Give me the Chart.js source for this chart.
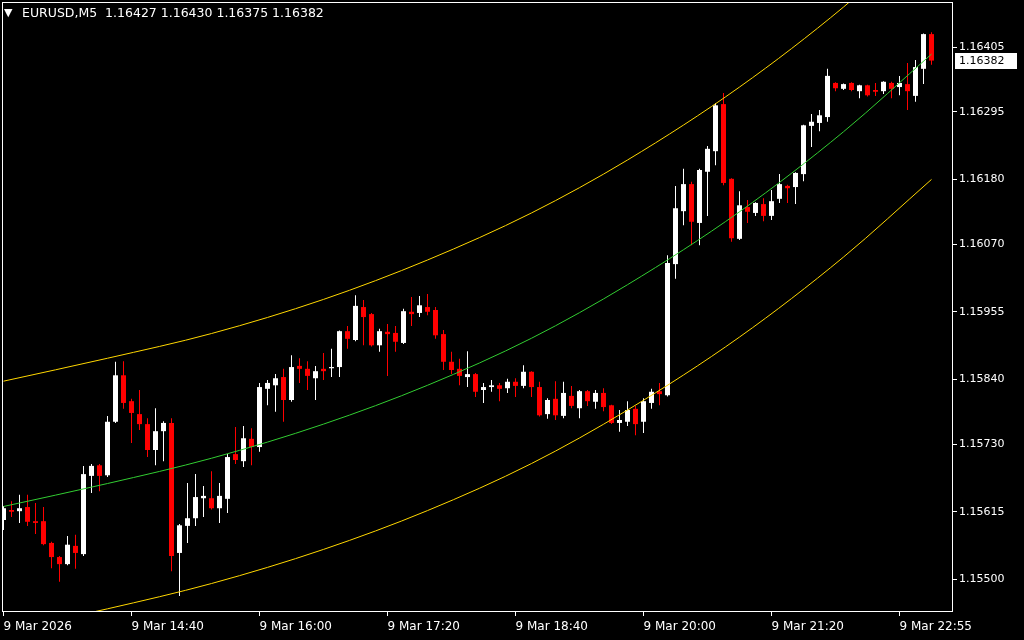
<!DOCTYPE html>
<html>
<head>
<meta charset="utf-8">
<script src="https://cdn.jsdelivr.net/npm/chart.js@4.4.1/dist/chart.umd.min.js"></script>
<style>
html, body { margin: 0; padding: 0; background: #000; }
canvas { display: block; }
</style>
</head>
<body>
<canvas id="chart" width="1024" height="640"></canvas>
<script>
// EURUSD M5 candles, 9 Mar 2026
const symbol = 'EURUSD,M5';

const opens = [
  1.15601, 1.15618, 1.15616, 1.15623, 1.15599, 1.15599, 1.15562, 1.15538, 1.15526, 1.15557,
  1.15543, 1.15676, 1.15694, 1.15677, 1.15768, 1.15847, 1.15803, 1.15781, 1.15764, 1.15720,
  1.15752, 1.15766, 1.15545, 1.15591, 1.15604, 1.15638, 1.15638, 1.15621, 1.15637, 1.15713,
  1.15701, 1.15739, 1.15725, 1.15824, 1.15830, 1.15844, 1.15805, 1.15863, 1.15858, 1.15842,
  1.15858, 1.15859, 1.15861, 1.15922, 1.15907, 1.15963, 1.15951, 1.15898, 1.15921, 1.15919,
  1.15902, 1.15955, 1.15953, 1.15963, 1.15958, 1.15917, 1.15870, 1.15858, 1.15844, 1.15849,
  1.15822, 1.15827, 1.15830, 1.15825, 1.15836, 1.15829, 1.15853, 1.15827, 1.15781, 1.15807,
  1.15778, 1.15812, 1.15791, 1.15820, 1.15802, 1.15817, 1.15796, 1.15766, 1.15768, 1.15790,
  1.15768, 1.15800, 1.15820, 1.15813, 1.16036, 1.16126, 1.16172, 1.16106, 1.16193, 1.16228,
  1.16308, 1.16181, 1.16079, 1.16133, 1.16123, 1.16138, 1.16118, 1.16147, 1.16169, 1.16167,
  1.16189, 1.16271, 1.16276, 1.16286, 1.16344, 1.16334, 1.16344, 1.16330, 1.16340, 1.16332,
  1.16330, 1.16344, 1.16337, 1.16342, 1.16322, 1.16368, 1.16427
];
const highs = [
  1.15625, 1.15633, 1.15644, 1.15644, 1.15630, 1.15623, 1.15564, 1.15540, 1.15574, 1.15576,
  1.15693, 1.15696, 1.15696, 1.15778, 1.15870, 1.15871, 1.15807, 1.15822, 1.15774, 1.15791,
  1.15769, 1.15774, 1.15594, 1.15664, 1.15679, 1.15659, 1.15684, 1.15664, 1.15713, 1.15759,
  1.15761, 1.15757, 1.15834, 1.15839, 1.15849, 1.15858, 1.15881, 1.15876, 1.15871, 1.15863,
  1.15885, 1.15892, 1.15923, 1.15931, 1.15983, 1.15975, 1.15953, 1.15926, 1.15934, 1.15931,
  1.15960, 1.15980, 1.15982, 1.15985, 1.15963, 1.15924, 1.15887, 1.15875, 1.15888, 1.15851,
  1.15834, 1.15839, 1.15834, 1.15841, 1.15842, 1.15864, 1.15854, 1.15836, 1.15808, 1.15837,
  1.15836, 1.15829, 1.15822, 1.15822, 1.15822, 1.15825, 1.15797, 1.15788, 1.15803, 1.15795,
  1.15808, 1.15824, 1.15834, 1.16051, 1.16169, 1.16198, 1.16176, 1.16198, 1.16237, 1.16310,
  1.16327, 1.16182, 1.16160, 1.16145, 1.16141, 1.16148, 1.16162, 1.16189, 1.16171, 1.16192,
  1.16273, 1.16291, 1.16298, 1.16368, 1.16345, 1.16343, 1.16345, 1.16341, 1.16341, 1.16344,
  1.16347, 1.16346, 1.16356, 1.16378, 1.16383, 1.16428, 1.16430
];
const lows = [
  1.15584, 1.15606, 1.15596, 1.15591, 1.15577, 1.15558, 1.15519, 1.15496, 1.15524, 1.15518,
  1.15540, 1.15647, 1.15650, 1.15674, 1.15766, 1.15790, 1.15732, 1.15754, 1.15708, 1.15694,
  1.15701, 1.15514, 1.15472, 1.15562, 1.15591, 1.15606, 1.15619, 1.15596, 1.15613, 1.15696,
  1.15691, 1.15694, 1.15717, 1.15796, 1.15785, 1.15768, 1.15802, 1.15834, 1.15822, 1.15805,
  1.15839, 1.15844, 1.15844, 1.15892, 1.15905, 1.15898, 1.15896, 1.15887, 1.15846, 1.15887,
  1.15900, 1.15931, 1.15946, 1.15949, 1.15909, 1.15856, 1.15849, 1.15830, 1.15827, 1.15810,
  1.15800, 1.15819, 1.15803, 1.15817, 1.15810, 1.15825, 1.15810, 1.15777, 1.15773, 1.15771,
  1.15774, 1.15791, 1.15774, 1.15795, 1.15790, 1.15786, 1.15764, 1.15751, 1.15761, 1.15745,
  1.15749, 1.15790, 1.15796, 1.15811, 1.16011, 1.16102, 1.16068, 1.16068, 1.16118, 1.16204,
  1.16170, 1.16074, 1.16077, 1.16106, 1.16118, 1.16109, 1.16111, 1.16140, 1.16140, 1.16138,
  1.16177, 1.16235, 1.16262, 1.16278, 1.16330, 1.16332, 1.16330, 1.16318, 1.16321, 1.16322,
  1.16325, 1.16318, 1.16323, 1.16298, 1.16312, 1.16342, 1.16375
];
const closes = [
  1.15621, 1.15615, 1.15621, 1.15598, 1.15596, 1.15560, 1.15538, 1.15526, 1.15559, 1.15545,
  1.15679, 1.15693, 1.15676, 1.15768, 1.15847, 1.15800, 1.15783, 1.15764, 1.15720, 1.15752,
  1.15766, 1.15540, 1.15592, 1.15604, 1.15640, 1.15642, 1.15621, 1.15642, 1.15708, 1.15703,
  1.15740, 1.15725, 1.15827, 1.15834, 1.15842, 1.15805, 1.15861, 1.15858, 1.15846, 1.15854,
  1.15854, 1.15861, 1.15922, 1.15909, 1.15965, 1.15946, 1.15898, 1.15922, 1.15917, 1.15904,
  1.15956, 1.15951, 1.15966, 1.15955, 1.15915, 1.15870, 1.15856, 1.15846, 1.15849, 1.15819,
  1.15827, 1.15830, 1.15824, 1.15836, 1.15829, 1.15853, 1.15827, 1.15779, 1.15805, 1.15779,
  1.15817, 1.15795, 1.15820, 1.15803, 1.15817, 1.15793, 1.15766, 1.15771, 1.15788, 1.15764,
  1.15803, 1.15819, 1.15815, 1.16038, 1.16131, 1.16172, 1.16108, 1.16196, 1.16232, 1.16306,
  1.16174, 1.16080, 1.16136, 1.16125, 1.16140, 1.16118, 1.16143, 1.16172, 1.16165, 1.16191,
  1.16272, 1.16278, 1.16289, 1.16356, 1.16335, 1.16342, 1.16332, 1.16340, 1.16323, 1.16329,
  1.16346, 1.16334, 1.16344, 1.16330, 1.16371, 1.16427, 1.16382
];

// time axis labels and the bar they sit on
const timeTickBars = [0, 16, 32, 48, 64, 80, 96, 112];
const timeLabels = ['9 Mar 2026', '9 Mar 14:40', '9 Mar 16:00', '9 Mar 17:20',
  '9 Mar 18:40', '9 Mar 20:00', '9 Mar 21:20', '9 Mar 22:55'];

const priceTicks = [1.16405, 1.16295, 1.16180, 1.16070, 1.15955, 1.15840, 1.15730, 1.15615, 1.15500];

// regression channel, read at a few bars
const channelBars = [0, 13, 26, 40, 53, 66, 78, 92, 105, 116];
const channelMid = [1.15624, 1.15663, 1.15706, 1.15764, 1.15830, 1.15910, 1.16001, 1.16125, 1.16261, 1.16393];
const channelUp = [1.15837, 1.15876, 1.15918, 1.15976, 1.16043, 1.16123, 1.16213, 1.16337, 1.16473, 1.16606];
const channelLow = [1.15411, 1.15450, 1.15493, 1.15551, 1.15617, 1.15697, 1.15788, 1.15912, 1.16048, 1.16180];

const upColor = '#ffffff';
const downColor = '#ff0000';
const font = '"DejaVu Sans", sans-serif';

const bars = opens.map((o, i) => i);
const candleColors = bars.map(i => closes[i] >= opens[i] ? upColor : downColor);

function channelPoints(vals) {
  return channelBars.map((b, i) => ({x: b, y: vals[i]}));
}

function lineSet(vals, color) {
  return {
    type: 'line',
    data: channelPoints(vals),
    borderColor: color,
    borderWidth: 1,
    pointRadius: 0,
    fill: false,
    cubicInterpolationMode: 'monotone',
    order: 0
  };
}

const frameAndText = {
  id: 'frameAndText',
  afterDraw(chart) {
    const ctx = chart.ctx;
    const a = chart.chartArea;
    const ys = chart.scales.y;
    ctx.save();
    // frame
    ctx.strokeStyle = '#ffffff';
    ctx.lineWidth = 1;
    ctx.strokeRect(a.left + 0.5, a.top + 0.5, a.right - a.left - 1, a.bottom - a.top - 1);

    // header
    const n = opens.length - 1;
    ctx.fillStyle = '#ffffff';
    ctx.textBaseline = 'middle';
    ctx.font = '11px ' + font;
    ctx.fillText('\u25BC', 4, 13);
    ctx.font = '12.5px ' + font;
    ctx.fillText(symbol + '  ' + [opens[n], highs[n], lows[n], closes[n]].map(v => v.toFixed(5)).join(' '), 22, 14);

    // last price box
    const py = Math.round(ys.getPixelForValue(closes[n]));
    ctx.fillStyle = '#ffffff';
    ctx.fillRect(a.right + 2, py - 8, 62, 16);
    ctx.fillStyle = '#000000';
    ctx.font = '11px ' + font;
    ctx.fillText(closes[n].toFixed(5), a.right + 6, py + 0.5);
    ctx.restore();
  }
};

new Chart(document.getElementById('chart'), {
  type: 'bar',
  data: {
    datasets: [
      lineSet(channelMid, '#32cd32'),
      lineSet(channelUp, '#ffd700'),
      lineSet(channelLow, '#ffd700'),
      {
        data: bars.map(i => ({x: i, y: [opens[i], closes[i]]})),
        backgroundColor: candleColors,
        barThickness: 5,
        minBarLength: 1,
        inflateAmount: 0,
        borderWidth: 0,
        grouped: false,
        order: 1
      },
      {
        data: bars.map(i => ({x: i, y: [lows[i], highs[i]]})),
        backgroundColor: candleColors,
        barThickness: 1,
        inflateAmount: 0,
        borderWidth: 0,
        grouped: false,
        order: 2
      }
    ]
  },
  options: {
    responsive: false,
    devicePixelRatio: 1,
    animation: false,
    layout: { padding: { left: 2, top: 2, right: 0, bottom: 0 } },
    plugins: { legend: { display: false }, tooltip: { enabled: false } },
    scales: {
      x: {
        type: 'linear',
        offset: false,
        min: -0.1875,
        max: 118.6875,
        afterBuildTicks: s => { s.ticks = timeTickBars.map(v => ({value: v})); },
        afterFit: s => {
          s.height = 28;
          s.paddingLeft = 0; s.paddingRight = 0; s.paddingTop = 0; s.paddingBottom = 0;
        },
        grid: { display: true, drawOnChartArea: false, drawTicks: true, tickLength: 4, color: '#ffffff', offset: false },
        border: { display: false },
        ticks: {
          autoSkip: false,
          maxRotation: 0,
          minRotation: 0,
          align: 'start',
          padding: 4,
          color: '#ffffff',
          font: { family: font, size: 12 },
          callback: v => timeLabels[timeTickBars.indexOf(v)]
        }
      },
      y: {
        type: 'linear',
        position: 'right',
        min: 1.154446,
        max: 1.164816,
        afterBuildTicks: s => { s.ticks = priceTicks.map(v => ({value: v})); },
        afterFit: s => {
          s.width = 71;
          s.paddingLeft = 0; s.paddingRight = 0; s.paddingTop = 0; s.paddingBottom = 0;
        },
        grid: { display: true, drawOnChartArea: false, drawTicks: true, tickLength: 4, color: '#ffffff' },
        border: { display: false },
        ticks: {
          padding: 2,
          color: '#ffffff',
          font: { family: font, size: 11 },
          callback: v => v.toFixed(5)
        }
      }
    }
  },
  plugins: [frameAndText]
});
</script>
</body>
</html>
